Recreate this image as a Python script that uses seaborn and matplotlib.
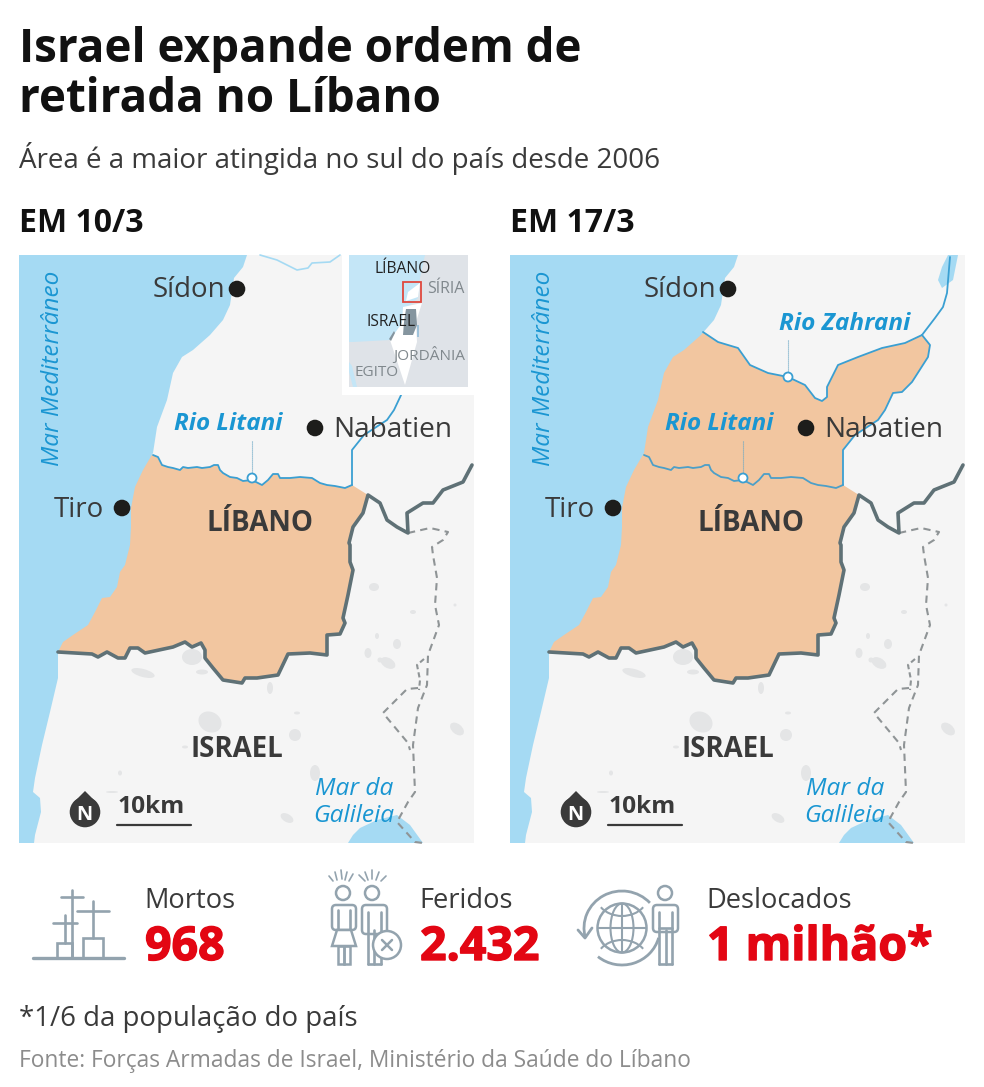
import matplotlib
matplotlib.use("Agg")
import matplotlib.pyplot as plt
import matplotlib.patheffects as pe
from matplotlib.patches import Polygon, Rectangle, Circle, Ellipse, Arc, FancyBboxPatch
import seaborn as sns

sns.set_theme(style="white")
plt.rcParams["font.family"] = ["Open Sans", "DejaVu Sans"]

TITLE = ["Israel expande ordem de", "retirada no Líbano"]
SUBTITLE = "Área é a maior atingida no sul do país desde 2006"
PANEL_TITLES = ["EM 10/3", "EM 17/3"]
STAT_LABELS = ["Mortos", "Feridos", "Deslocados"]
STAT_VALUES = ["968", "2.432", "1 milhão*"]
NOTE = "*1/6 da população do país"
SOURCE = "Fonte: Forças Armadas de Israel, Ministério da Saúde do Líbano"

INK = "#3a3a3a"; RED = "#e30613"; SEA = "#a5daf3"; LAND = "#f5f5f5"; ORANGE = "#f2c6a0"
BORDER = "#5f7176"; RIVER = "#3a9fd2"; ICON = "#93a3ae"; BLUE_TXT = "#1a96d2"

COAST_X = [247,243,234,230,223,210,193,182,173,167,157,153,143,135,131,131,130,125,120,117,110,102,95,88,73,63,58,58,50,42,35,33,40,41,35,34]
COAST_Y = [255,267,278,305,320,335,350,357,373,400,427,453,470,487,508,527,545,565,572,587,597,598,612,625,635,642,652,678,712,745,778,792,798,812,835,843]
LITANI_X = [153,158,162,168,173,180,183,188,197,202,210,214,218,220,223,230,237,243,252,262,268,273,278,280,290,300,312,320,327,335,345,352]
LITANI_Y = [455,457,465,467,468,470,467,468,467,468,467,465,465,470,473,477,478,481,480,485,480,474,474,478,478,477,478,483,485,486,488,485]
LITANI_UP_X = [352,352,364,387,394,402,411,421,437,439,431]
LITANI_UP_Y = [485,450,435,420,410,393,392,382,357,345,335]
UPPER_X = [431,444,452,456,459]
UPPER_Y = [335,318,307,293,257]
ZAHRANI_X = [212,227,247,259,277,297,314,324,331,336,336,347,367,391,414,431]
ZAHRANI_Y = [332,342,348,365,373,377,385,398,401,397,387,365,357,348,343,335]
BORDER_X = [58,92,98,107,118,125,130,138,145,173,185,192,201,205,205,213,223,242,245,257,278,288,310,327,327,340,345,343,348,353,350,350,349,353,363,368,380,387,397,408,407,423,433,443,463,472]
BORDER_Y = [652,654,657,652,658,658,648,648,653,647,642,647,643,650,658,668,680,683,678,678,675,654,653,655,635,634,623,618,595,570,562,545,543,527,513,495,503,520,527,533,513,503,503,490,482,465]
DASH_A_X = [408,430,448,443,432,433,437,435,439,428,427,418,413,415,408,397,415,423]
DASH_A_Y = [533,528,532,540,547,555,578,605,625,655,685,708,745,792,802,822,842,843]
DASH_B_X = [418,407,383,408,410]
DASH_B_Y = [688,689,713,743,750]
DASH_C_X = [424,417,420,419]
DASH_C_Y = [659,665,680,690]
TOP_STREAM_X = [260,277,297,308,312,330,340]
TOP_STREAM_Y = [255,260,270,268,263,262,255]
GALILEE_X = [348,353,360,377,397,410,423]
GALILEE_Y = [843,835,828,820,815,825,843]
LAKE_X = [457,467,462,451,447,451]
LAKE_Y = [255,255,280,288,280,267]
# towns: x, y, width, height, angle
TOWN_X = [192,143,210,270,202,295,315,287,368,374,397,388,380,377,457,297,185,120,112,413,455]
TOWN_Y = [657,673,722,688,672,735,773,818,653,587,644,663,660,636,729,713,747,773,792,612,605]
TOWN_W = [20,24,24,6,12,12,10,14,7,10,8,16,5,4,16,6,6,4,12,6,3]
TOWN_H = [16,8,20,12,5,12,16,8,10,8,10,10,5,6,10,3,3,5,2,4,3]
TOWN_A = [0,15,30,0,0,0,0,30,0,0,0,30,0,0,40,0,0,0,0,0,0]

fig = plt.figure(figsize=(9.84, 10.87), dpi=100, facecolor="white")
ax = fig.add_axes([0, 0, 1, 1])
ax.set_xlim(0, 984); ax.set_ylim(1087, 0); ax.axis("off")

def line(xs, ys, color, lw, ls="-", z=3, dx=0, dy=0):
    n0 = len(ax.lines)
    sns.lineplot(x=[v + dx for v in xs], y=[v + dy for v in ys], sort=False, estimator=None,
                 color=color, linewidth=lw, linestyle=ls, ax=ax, legend=False, zorder=z)
    ax.lines[n0].set_solid_joinstyle("round")
    ax.lines[n0].set_solid_capstyle("round")

def txt(x, y, s, size, color=INK, weight="normal", ha="left", style="normal", z=10, **kw):
    return ax.text(x, y, s, fontsize=size * 0.72, color=color, fontweight=weight, ha=ha, va="baseline",
                   fontstyle=style, zorder=z, **kw)

def panel(dx, second):
    ax.add_patch(Rectangle((19 + dx, 255), 455, 588, fc=LAND, ec="none", zorder=1))
    for x, y, w, h, a in zip(TOWN_X, TOWN_Y, TOWN_W, TOWN_H, TOWN_A):
        ax.add_patch(Ellipse((x + dx, y), w, h, angle=a, fc="#e4e5e6", ec="none", zorder=1.2))
    # orange area: north limit + borders, the sea is painted over its west side
    if second:
        nx = [120] + ZAHRANI_X + LITANI_UP_X[::-1][1:]
        ny = [332] + ZAHRANI_Y + LITANI_UP_Y[::-1][1:]
    else:
        nx = [120] + LITANI_X; ny = [455] + LITANI_Y
    ex = BORDER_X[:BORDER_X.index(368) + 1][::-1]
    ey = BORDER_Y[:BORDER_X.index(368) + 1][::-1]
    pts = [(x + dx, y) for x, y in zip(nx + ex, ny + ey)] + [(40 + dx, 652)]
    ax.add_patch(Polygon(pts, closed=True, fc=ORANGE, ec="none", zorder=1.5))
    # sea
    sea = [(x + dx, y) for x, y in zip(COAST_X, COAST_Y)] + [(19 + dx, 843), (19 + dx, 255)]
    ax.add_patch(Polygon(sea, closed=True, fc=SEA, ec="none", zorder=2))
    ax.add_patch(Polygon([(x + dx, y) for x, y in zip(GALILEE_X, GALILEE_Y)], closed=True, fc=SEA, ec="none", zorder=2))
    # lines
    line(DASH_A_X, DASH_A_Y, "#8f9496", 1.5, (0, (3.5, 2.5)), dx=dx)
    line(DASH_B_X, DASH_B_Y, "#8f9496", 1.5, (0, (3.5, 2.5)), dx=dx)
    line(DASH_C_X, DASH_C_Y, "#8f9496", 1.5, (0, (2.5, 1.5)), dx=dx)
    line(BORDER_X, BORDER_Y, BORDER, 2.6, dx=dx)
    rc = "#4c9fc8" if second else RIVER
    line(LITANI_X, LITANI_Y, rc, 1.3, dx=dx)
    line(LITANI_UP_X, LITANI_UP_Y, RIVER, 1.3, dx=dx)
    if second:
        line(ZAHRANI_X, ZAHRANI_Y, RIVER, 1.3, dx=dx)
        line(UPPER_X, UPPER_Y, RIVER, 1.3, dx=dx)
        ax.add_patch(Polygon([(x + dx, y) for x, y in zip(LAKE_X, LAKE_Y)], closed=True, fc=SEA, ec="none", zorder=2))
        line([297, 297], [340, 374], "#6aa7c4", 0.8, (0, (1, 0.8)), dx=dx)
        ax.add_patch(Circle((297 + dx, 377), 4.5, fc="white", ec=RIVER, lw=1.3, zorder=5))
        txt(288 + dx, 330, "Rio Zahrani", 24.4, BLUE_TXT, "bold", style="italic")
    else:
        line(TOP_STREAM_X, TOP_STREAM_Y, SEA, 1.2, dx=dx)
    line([252, 252], [441, 474], "#6aa7c4", 0.8, (0, (1, 0.8)), dx=dx)
    ax.add_patch(Circle((252 + dx, 478), 4.5, fc="white", ec=RIVER, lw=1.3, zorder=5))
    # cities
    for cx, cy in [(237, 289), (315, 428), (122, 508)]:
        ax.add_patch(Circle((cx + dx, cy), 8.3, fc="#1d1d1b", ec="none", zorder=6))
    txt(225 + dx, 297, "Sídon", 27.6, ha="right")
    txt(333 + dx, 437, "Nabatien", 28)
    txt(104 + dx, 517, "Tiro", 27.6, ha="right")
    txt(174 + dx, 430, "Rio Litani", 24.2, BLUE_TXT, "bold", style="italic")
    txt(260 + dx, 531, "LÍBANO", 27.8, weight="bold", ha="center")
    txt(237 + dx, 757, "ISRAEL", 27.6, weight="bold", ha="center")
    txt(354 + dx, 795, "Mar da", 24.5, BLUE_TXT, ha="center", style="italic")
    txt(354 + dx, 822, "Galileia", 24.5, BLUE_TXT, ha="center", style="italic")
    txt(59 + dx, 466, "Mar Mediterrâneo", 24.3, BLUE_TXT, style="italic", rotation=90, rotation_mode="anchor")
    # north + scale
    ax.add_patch(Circle((85 + dx, 812), 15.3, fc=INK, ec="none", zorder=6))
    ax.add_patch(Polygon([(85 + dx, 791), (74 + dx, 802), (96 + dx, 802)], fc=INK, ec="none", zorder=6))
    txt(84.5 + dx, 820, "N", 20, "white", "bold", ha="center", z=7)
    txt(118 + dx, 813, "10km", 24.5, weight="bold")
    line([117, 191], [825, 825], INK, 1.6, dx=dx)

panel(0, False)
panel(491, True)

# inset
ax.add_patch(Rectangle((342, 255), 132, 140, fc="white", ec="none", zorder=7))
ax.add_patch(Rectangle((349, 255), 119, 132, fc="#dfe3e8", ec="none", zorder=7.1))
ax.add_patch(Polygon([(349, 255), (425, 255), (420, 278), (418, 298), (408, 307), (403, 325), (390, 340), (353, 342), (349, 342)],
                     fc="#c4e6f7", ec="none", zorder=7.2))
ax.add_patch(Polygon([(349, 362), (352, 366), (357, 387), (353, 387), (349, 372)], fc="#c4e6f7", ec="none", zorder=7.2))
ax.add_patch(Polygon([(403, 307), (422, 303), (416, 322), (417, 342), (405, 385), (390, 340), (402, 323)], fc="white", ec="none", zorder=7.3))
ax.add_patch(Polygon([(408, 292), (420, 283), (418, 297), (406, 301)], fc="white", ec="none", zorder=7.3))
ax.add_patch(Polygon([(406, 309), (416, 309), (417, 325), (413, 335), (403, 335), (404, 322)], fc="#85959f", ec="none", zorder=7.4))
ax.add_patch(Polygon([(417, 325), (419, 325), (419, 337), (417, 337)], fc="#9fc2da", ec="none", zorder=7.4))
ax.add_patch(Polygon([(389, 339), (394, 331), (395, 333), (391, 341)], fc="#85959f", ec="none", zorder=7.4))
ax.add_patch(Rectangle((403, 282), 18, 20, fc="none", ec="#e0493e", lw=1.3, zorder=7.5))
txt(375, 273, "LÍBANO", 15.6, "#222222", z=8)
txt(427, 293, "SÍRIA", 16, "#80888d", z=8)
txt(367, 326, "ISRAEL", 15.6, "#222222", z=8)
txt(393, 360, "JORDÂNIA", 15.4, "#80888d", z=8)
txt(355, 376, "EGITO", 15.4, "#80888d", z=8)

# headings
txt(19, 62, TITLE[0], 45.8, "#111111", "bold")
txt(19, 112, TITLE[1], 45.8, "#111111", "bold")
txt(19, 168, SUBTITLE, 27.7, INK)
txt(19, 232, PANEL_TITLES[0], 32, "#111111", "bold")
txt(510, 232, PANEL_TITLES[1], 32, "#111111", "bold")

# stats
for x, lab, val in zip([144, 419, 706], STAT_LABELS, STAT_VALUES):
    txt(x, 908, lab, 27.2, INK)
    t = txt(x + 1, 960, val, 46.5, RED, "bold")
    t.set_path_effects([pe.withStroke(linewidth=1.0, foreground=RED)])
txt(19, 1026, NOTE, 27.6, INK)
txt(19, 1067, SOURCE, 22.7, "#8c8c8c")

# icons
def seg(x, y, lw=1.9):
    line(x, y, ICON, lw, z=4)

seg([33, 124], [958, 958], 2.4)
seg([72, 72], [890, 958]); seg([61, 83], [897, 897])
seg([93, 93], [901, 938]); seg([77, 109], [911, 911])
seg([65, 65], [915, 943]); seg([53, 77], [923, 923])
for x0, y0, w, h in [(57, 943, 15, 15), (83, 938, 20, 20)]:
    ax.add_patch(Rectangle((x0, y0), w, h, fc="none", ec=ICON, lw=1.9, zorder=4))

def body(x0, x1, y0, y1):
    ax.add_patch(FancyBboxPatch((x0, y0), x1 - x0, y1 - y0, boxstyle="round,pad=0,rounding_size=4", fc="white", ec=ICON, lw=1.8, zorder=4))

# woman
ax.add_patch(Circle((343, 893), 7, fc="none", ec=ICON, lw=1.8, zorder=4))
body(332, 356, 905, 930)
seg([338, 338], [910, 930]); seg([350, 350], [910, 930])
ax.add_patch(Polygon([(337, 930), (351, 930), (356, 946), (332, 946)], fc="white", ec=ICON, lw=1.8, zorder=4))
ax.add_patch(Rectangle((338, 946), 6, 18, fc="none", ec=ICON, lw=1.8, zorder=4))
ax.add_patch(Rectangle((344, 946), 6, 18, fc="none", ec=ICON, lw=1.8, zorder=4))
# man
ax.add_patch(Circle((372, 893), 7, fc="none", ec=ICON, lw=1.8, zorder=4))
body(362, 387, 905, 934)
seg([368, 368], [912, 964]); seg([381, 381], [912, 964]); seg([368, 381], [964, 964]); seg([374, 374], [930, 964])
ax.add_patch(Circle((387, 945), 14, fc="white", ec=ICON, lw=1.8, zorder=5))
line([382, 392], [940, 950], ICON, 1.8, z=6); line([382, 392], [950, 940], ICON, 1.8, z=6)
RAY_X0 = [329, 335, 341, 347, 353, 359, 365, 372, 379, 386]
RAY_Y0 = [876, 872, 870, 872, 874, 875, 872, 870, 872, 876]
RAY_X1 = [333, 337, 342, 345, 349, 365, 368, 372, 376, 381]
RAY_Y1 = [881, 880, 879, 880, 881, 881, 880, 879, 880, 881]
for a, b, c, d in zip(RAY_X0, RAY_X1, RAY_Y0, RAY_Y1):
    line([a, b], [c, d], ICON, 1.2, z=4)

# globe
ax.add_patch(Circle((622, 928), 24.5, fc="none", ec=ICON, lw=1.8, zorder=4))
ax.add_patch(Ellipse((622, 928), 23, 49, fc="none", ec=ICON, lw=1.5, zorder=4))
seg([622, 622], [904, 952], 1.5); seg([598, 646], [928, 928], 1.5)
ax.add_patch(Arc((622, 895), 52, 42, theta1=30, theta2=150, ec=ICON, lw=1.5, zorder=4))
ax.add_patch(Arc((622, 961), 52, 42, theta1=210, theta2=330, ec=ICON, lw=1.5, zorder=4))
ax.add_patch(Arc((622, 928), 76, 74, theta1=165, theta2=318, ec=ICON, lw=2, zorder=4))
ax.add_patch(Arc((622, 928), 76, 74, theta1=15, theta2=130, ec=ICON, lw=2, zorder=4))
seg([578, 585, 592], [930, 938, 928], 2)
# man 2
ax.add_patch(Circle((665, 893), 7, fc="none", ec=ICON, lw=1.8, zorder=4))
body(653, 678, 905, 932)
seg([659, 659], [912, 964]); seg([672, 672], [912, 964]); seg([659, 672], [964, 964]); seg([666, 666], [930, 964]); seg([659, 672], [928, 928])

fig.savefig("out.png", dpi=100, facecolor="white")
